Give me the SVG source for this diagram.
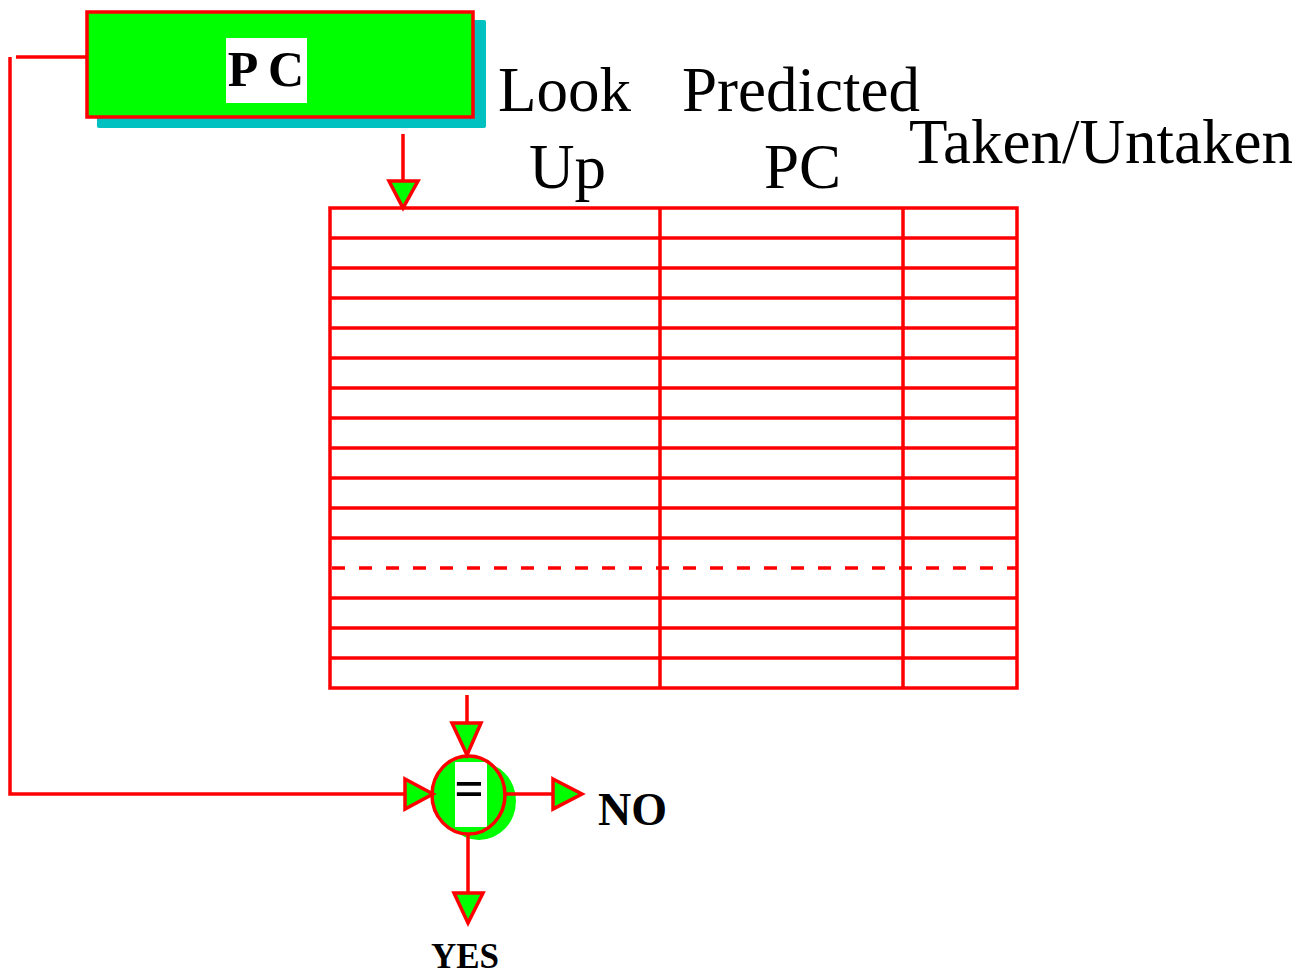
<svg xmlns="http://www.w3.org/2000/svg" width="1315" height="972" viewBox="0 0 1315 972">
<style>
.ln{stroke:#ff0000;stroke-width:3.5;fill:none}
.tri{fill:#00ff00;stroke:#ff0000;stroke-width:3.5;stroke-linejoin:miter}
.hdr{font-family:"Liberation Serif",serif;font-size:63px;fill:#000}
.bld{font-family:"Liberation Serif",serif;font-weight:bold;fill:#000}
</style>
<rect width="1315" height="972" fill="#ffffff"/>
<g id="pc">
<rect x="97" y="20" width="389" height="108" rx="2" fill="#00c0c0"/>
<rect x="87" y="12" width="386" height="105" fill="#00ff00" stroke="#ff0000" stroke-width="3.5"/>
<rect x="226" y="38" width="81" height="65" fill="#ffffff"/>
<text x="266" y="86" class="bld" font-size="50" text-anchor="middle">P C</text>
</g>
<g id="headers">
<text x="498" y="111" class="hdr">Look</text>
<text x="529" y="188" class="hdr">Up</text>
<text x="682" y="111" class="hdr">Predicted</text>
<text x="764" y="188" class="hdr">PC</text>
<text x="909" y="163" class="hdr">Taken/Untaken</text>
</g>
<g id="table">
<rect x="330" y="208" width="687" height="480" class="ln"/>
<line x1="660" y1="208" x2="660" y2="688" class="ln"/>
<line x1="903" y1="208" x2="903" y2="688" class="ln"/>
<path class="ln" d="M330 238H1017M330 268H1017M330 298H1017M330 328H1017M330 358H1017M330 388H1017M330 418H1017M330 448H1017M330 478H1017M330 508H1017M330 538H1017M330 598H1017M330 628H1017M330 658H1017"/>
<line x1="332" y1="568" x2="1017" y2="568" class="ln" stroke-dasharray="13 14"/>
</g>
<g id="comparator">
<ellipse cx="479" cy="801" rx="37" ry="39" fill="#00ff00"/>
<ellipse cx="468.5" cy="795" rx="36.5" ry="39" fill="#00ff00"/>
<rect x="455" y="762" width="32" height="65" fill="#ffffff"/>
<ellipse cx="468.5" cy="795" rx="36.5" ry="39" class="ln"/>
<text x="469" y="806" class="bld" font-size="52" text-anchor="middle">=</text>
</g>
<g id="labels">
<text x="598" y="825" class="bld" font-size="46">NO</text>
<text x="431" y="968" class="bld" font-size="35">YES</text>
</g>
<g id="connectors">
<path class="ln" d="M16 57H87"/>
<path class="ln" d="M10 57V794H405"/>
<polygon class="tri" points="405,779 433,794 405,809"/>
<path class="ln" d="M403 134V181"/>
<polygon class="tri" points="389,181 418,181 403,208"/>
<path class="ln" d="M467 695V723"/>
<polygon class="tri" points="452,723 481,723 467,755"/>
<path class="ln" d="M505 794H553"/>
<polygon class="tri" points="553,779 582,794 553,809"/>
<path class="ln" d="M468 834V893"/>
<polygon class="tri" points="454,893 483,893 468,923"/>
</g>
</svg>
